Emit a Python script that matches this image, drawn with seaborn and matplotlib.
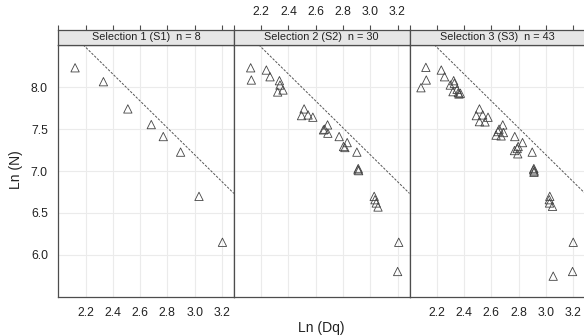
import numpy as np
import pandas as pd
import matplotlib
matplotlib.use("Agg")
import matplotlib.pyplot as plt
import seaborn as sns

# values: ln(Dq) and ln(N) per selection
s1_lndq = [2.123, 2.331, 2.510, 2.682, 2.770, 2.897, 3.032, 3.204]
s1_lnn = [8.233, 8.067, 7.742, 7.555, 7.412, 7.226, 6.698, 6.150]

s2_lndq = [2.123, 2.128, 2.238, 2.265, 2.334, 2.338, 2.360, 2.321, 2.515, 2.496,
           2.544, 2.579, 2.687, 2.665, 2.657, 2.689, 2.772, 2.831, 2.804, 2.814,
           2.902, 2.912, 2.910, 2.915, 3.029, 3.035, 3.044, 3.057, 3.209, 3.201]
s2_lnn = [8.233, 8.087, 8.206, 8.126, 8.079, 8.027, 7.968, 7.944, 7.742, 7.662,
          7.670, 7.643, 7.551, 7.500, 7.492, 7.452, 7.412, 7.340, 7.293, 7.281,
          7.226, 7.030, 7.015, 7.005, 6.698, 6.658, 6.619, 6.571, 6.150, 5.801]

s3_lndq = [2.120, 2.123, 2.084, 2.233, 2.257, 2.324, 2.329, 2.299, 2.319, 2.349,
           2.358, 2.373, 2.363, 2.513, 2.490, 2.537, 2.576, 2.513, 2.554, 2.684,
           2.657, 2.650, 2.689, 2.635, 2.672, 2.772, 2.829, 2.797, 2.790, 2.770,
           2.794, 2.900, 2.912, 2.910, 2.915, 2.913, 3.029, 3.025, 3.027, 3.049,
           3.201, 3.196, 3.054]
s3_lnn = [8.238, 8.087, 7.995, 8.206, 8.126, 8.079, 8.048, 8.027, 7.948, 7.976,
          7.936, 7.929, 7.920, 7.742, 7.662, 7.670, 7.643, 7.590, 7.587, 7.551,
          7.500, 7.471, 7.460, 7.429, 7.420, 7.412, 7.340, 7.293, 7.269, 7.245,
          7.206, 7.226, 7.030, 7.015, 7.000, 6.985, 6.698, 6.658, 6.619, 6.579,
          6.150, 5.801, 5.745]

panel_titles = ["Selection 1 (S1)  n = 8", "Selection 2 (S2)  n = 30",
                "Selection 3 (S3)  n = 43"]

# Reineke-type limiting line: ln N = a - 1.605 ln Dq
line_a = 12.01
line_b = -1.605

x_ticks = [2.0, 2.2, 2.4, 2.6, 2.8, 3.0, 3.2]
x_labels = ["", "2.2", "2.4", "2.6", "2.8", "3.0", "3.2"]
y_ticks = [5.5, 6.0, 6.5, 7.0, 7.5, 8.0]
y_labels = ["", "6.0", "6.5", "7.0", "7.5", "8.0"]

df = pd.concat([
    pd.DataFrame({"lndq": s1_lndq, "lnn": s1_lnn, "sel": panel_titles[0]}),
    pd.DataFrame({"lndq": s2_lndq, "lnn": s2_lnn, "sel": panel_titles[1]}),
    pd.DataFrame({"lndq": s3_lndq, "lnn": s3_lnn, "sel": panel_titles[2]}),
])

sns.set_style("white")
plt.rcParams["font.family"] = ["Liberation Sans", "DejaVu Sans"]

W, H = 584, 336
fig = plt.figure(figsize=(W / 100, H / 100), dpi=100)

xlim = (2.0, 3.288)
ylim = (5.505, 8.505)
left0, pw = 58.3, 175.6
ptop, pbot = 45, 296.7
stop = 30
border = "#4d4d4d"

for i, title in enumerate(panel_titles):
    l = (left0 + i * pw) / W
    ax = fig.add_axes([l, (H - pbot) / H, pw / W, (pbot - ptop) / H])
    sub = df[df["sel"] == title]
    ax.set_xlim(xlim)
    ax.set_ylim(ylim)
    for xv in x_ticks[1:]:
        ax.axvline(xv, color="#ebebeb", lw=0.8, zorder=0)
    for yv in y_ticks[1:]:
        ax.axhline(yv, color="#ebebeb", lw=0.8, zorder=0)
    xs = np.linspace(xlim[0], xlim[1], 50)
    ax.plot(xs, line_a + line_b * xs, color="#555555", lw=0.7,
            linestyle=(0, (2.5, 1.5)), zorder=2)
    sns.scatterplot(data=sub, x="lndq", y="lnn", marker="^", s=36,
                    facecolors="none", edgecolor="#444444", linewidth=0.6,
                    ax=ax, zorder=3)
    ax.set_xlabel("")
    ax.set_ylabel("")
    ax.set_xticks(x_ticks)
    ax.set_yticks(y_ticks)
    ax.tick_params(direction="out", length=3.5, width=0.8, color=border,
                   labelsize=8.8, labelcolor="#222222", pad=4)
    if i == 1:
        ax.set_xticklabels([""] * len(x_ticks))
    else:
        ax.set_xticklabels(x_labels)
    if i == 0:
        ax.set_yticklabels(y_labels)
    else:
        ax.tick_params(axis="y", left=False, labelleft=False)
    for sp in ax.spines.values():
        sp.set_color(border)
        sp.set_linewidth(0.9)
        sp.set_visible(True)

    # strip on top
    st = fig.add_axes([l, (H - ptop) / H, pw / W, (ptop - stop) / H])
    st.set_facecolor("#e6e6e6")
    st.set_xlim(xlim)
    st.set_ylim(0, 1)
    st.set_yticks([])
    st.xaxis.tick_top()
    st.set_xticks(x_ticks)
    st.tick_params(axis="x", direction="out", length=3.5, width=0.8,
                   color=border, labelsize=8.8, labelcolor="#222222", pad=5)
    if i == 1:
        st.set_xticklabels(x_labels)
    else:
        st.set_xticklabels([""] * len(x_ticks))
    for sp in st.spines.values():
        sp.set_color(border)
        sp.set_linewidth(0.9)
    st.text(np.mean(xlim), 0.5, title, ha="center", va="center",
            fontsize=7.8, color="#222222")

fig.text((left0 + 1.5 * pw) / W, 1 - 328 / H, "Ln (Dq)", ha="center",
         va="center", fontsize=10, color="#222222")
fig.text(16 / W, 1 - 170 / H, "Ln (N)", ha="center", va="center",
         rotation=90, fontsize=10, color="#222222")

fig.savefig("out.png", dpi=100)
